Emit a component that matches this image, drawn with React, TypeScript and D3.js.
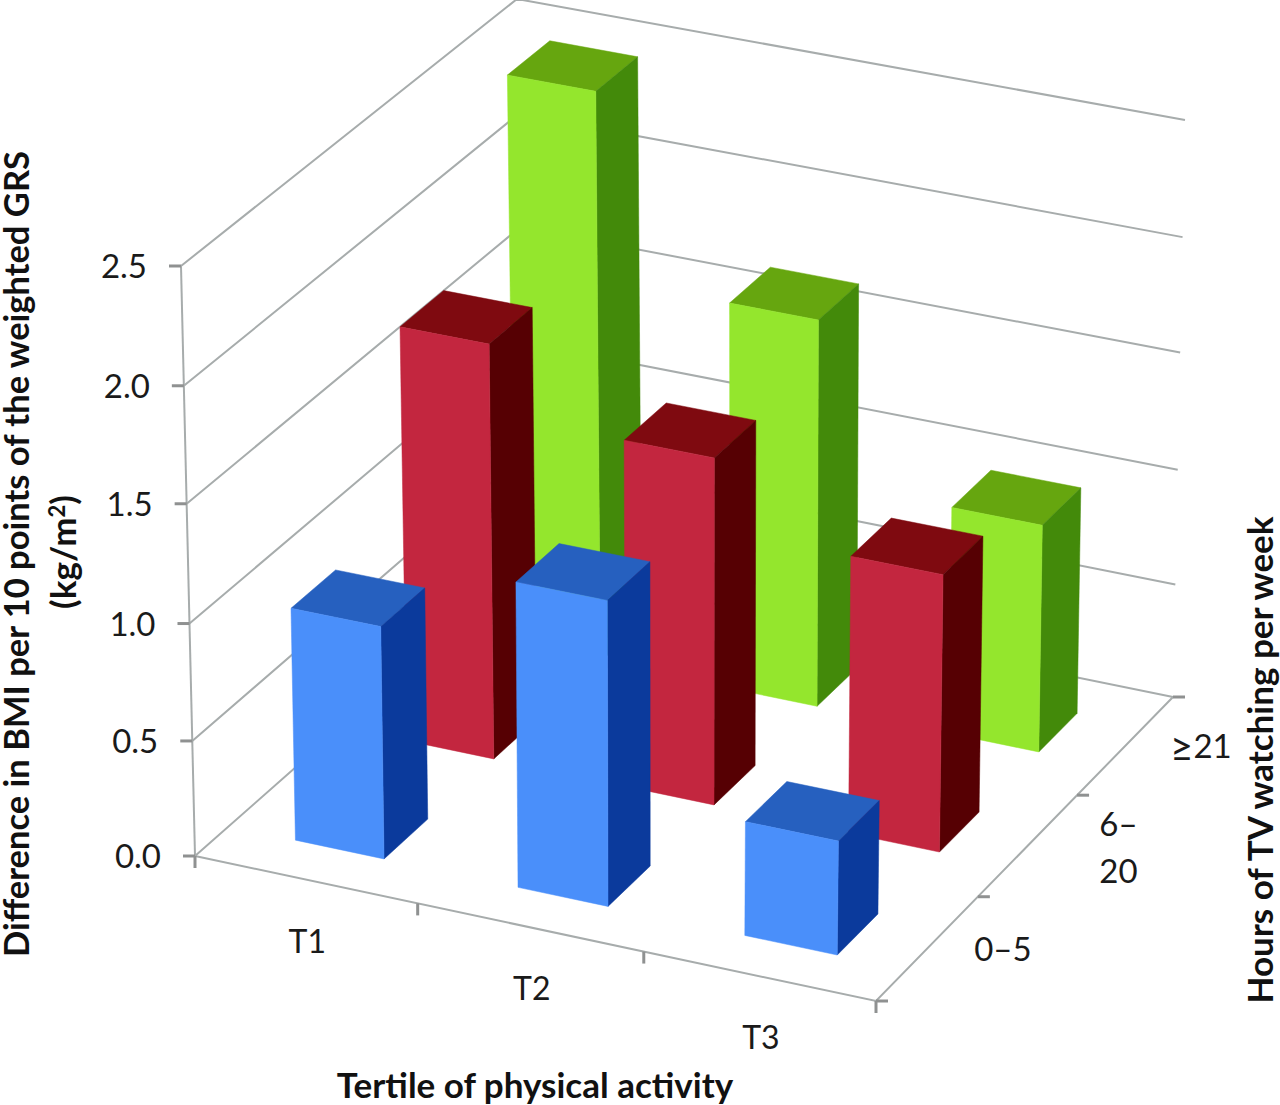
import React, { useEffect, useRef } from 'react';
import * as d3 from 'd3';

const tertiles = ['T1', 'T2', 'T3'];
const tvHours = ['0–5', '6–20', '≥21'];
const valueTicks = [0, 0.5, 1, 1.5, 2, 2.5];

// back row first so the painter order works out
const tvHighValues = [2.485, 1.68, 0.99];
const tvMidValues = [1.79, 1.49, 1.19];
const tvLowValues = [1.0, 1.3, 0.49];

const seriesRows = [
  { tv: 2, values: tvHighValues, front: '#94e62d', side: '#438a0a', top: '#66a60f' },
  { tv: 1, values: tvMidValues, front: '#c3263f', side: '#560003', top: '#7f0a10' },
  { tv: 0, values: tvLowValues, front: '#4a8ffa', side: '#0b3a9c', top: '#2660bf' },
];

type Pt = [number, number];

// corners of the chart box as seen on screen
const floorFL: Pt = [195, 856];
const floorFR: Pt = [876, 1001];
const floorBL: Pt = [525, 565];
const floorBR: Pt = [1173, 697];
const topFL: Pt = [181, 266];
const topFR: Pt = [884, 401];
const topBL: Pt = [517, -1];
const topBR: Pt = [1185, 120];

const App: React.FC = () => {
  const svgRef = useRef<SVGSVGElement>(null);

  useEffect(() => {
    if (!svgRef.current) return;
    const svg = d3.select(svgRef.current);
    svg.selectAll('*').remove();

    const uScale = d3.scaleLinear().domain([0, 1, 2, 3]).range([0, 0.327, 0.659, 1]);
    const vScale = d3.scaleLinear().domain([0, 1, 2, 3]).range([0, 0.343, 0.677, 1]);
    const hScale = d3.scaleLinear().domain(valueTicks).range([0, 0.195, 0.394, 0.597, 0.797, 1]);

    const mix = (a: Pt, b: Pt, t: number): Pt => d3.interpolateArray(a, b)(t) as unknown as Pt;

    const project = (u: number, v: number, value: number): Pt => {
      const s = uScale(u);
      const t = vScale(v);
      const floor = mix(mix(floorFL, floorFR, s), mix(floorBL, floorBR, s), t);
      const ceil = mix(mix(topFL, topFR, s), mix(topBL, topBR, s), t);
      return mix(floor, ceil, hScale(value));
    };

    const line = d3.line<Pt>();
    const poly = (pts: Pt[]) => line(pts) + 'Z';

    // Walls
    const grid = svg.append('g').attr('fill', 'none').attr('stroke', '#a7acac').attr('stroke-width', 2);
    valueTicks.forEach((t) => {
      grid.append('path').attr('d', line([project(0, 0, t), project(0, 3, t), project(3, 3, t)]));
    });
    grid.append('path').attr('d', line([project(0, 0, 0), project(0, 0, 2.5)]));
    grid.append('path').attr('d', line([project(0, 0, 0), project(3, 0, 0), project(3, 3, 0)]));

    // Tick marks
    const ticks = svg.append('g').attr('stroke', '#8f9191').attr('stroke-width', 3);
    valueTicks.forEach((t) => {
      const [x, y] = project(0, 0, t);
      ticks.append('line').attr('x1', x - 12).attr('x2', x).attr('y1', y).attr('y2', y);
    });
    d3.range(0, 4).forEach((i) => {
      const [x, y] = project(i, 0, 0);
      ticks.append('line').attr('x1', x).attr('x2', x).attr('y1', y).attr('y2', y + 12);
    });
    d3.range(0, 4).forEach((i) => {
      const [x, y] = project(3, i, 0);
      ticks.append('line').attr('x1', x).attr('x2', x + 12).attr('y1', y).attr('y2', y);
    });

    // Bars
    const barLo = 0.3;
    const barHi = 0.7;
    const bars = svg.append('g');
    seriesRows.forEach((row) => {
      row.values.forEach((value, i) => {
        const u0 = i + barLo;
        const u1 = i + barHi;
        const v0 = row.tv + barLo;
        const v1 = row.tv + barHi - 0.005;
        const g = bars.append('g');
        g.append('path').attr('fill', row.top).attr('stroke', row.top).attr('stroke-width', 0.5).attr('d', poly([
          project(u0, v0, value), project(u1, v0, value), project(u1, v1, value), project(u0, v1, value),
        ]));
        g.append('path').attr('fill', row.side).attr('stroke', row.side).attr('stroke-width', 0.5).attr('d', poly([
          project(u1, v0, 0), project(u1, v1, 0), project(u1, v1, value), project(u1, v0, value),
        ]));
        g.append('path').attr('fill', row.front).attr('stroke', row.front).attr('stroke-width', 0.5).attr('d', poly([
          project(u0, v0, 0), project(u1, v0, 0), project(u1, v0, value), project(u0, v0, value),
        ]));
      });
    });

    // Labels
    const font = 'Lato, "Open Sans", sans-serif';
    const labels = svg.append('g').attr('font-family', font).attr('fill', '#1a1a1a');

    valueTicks.forEach((t) => {
      const [x, y] = project(0, 0, t);
      labels.append('text')
        .attr('x', x - 34)
        .attr('y', y + 12)
        .attr('text-anchor', 'end')
        .attr('font-size', 33)
        .text(d3.format('.1f')(t));
    });

    tertiles.forEach((name, i) => {
      const [x, y] = project(i + 0.5, 0, 0);
      labels.append('text')
        .attr('x', x + 1)
        .attr('y', y + 73)
        .attr('text-anchor', 'middle')
        .attr('font-size', 32)
        .text(name);
    });

    tvHours.forEach((name, i) => {
      const [x, y] = project(3, i + 0.5, 0);
      if (name.includes('–') && name.length > 3) {
        // the middle label wraps after the dash
        [name.slice(0, 2), name.slice(2)].forEach((p, k) => {
          labels.append('text')
            .attr('x', x + 91)
            .attr('y', y - 10 + k * 47)
            .attr('text-anchor', 'middle')
            .attr('font-size', 33)
            .text(p);
        });
        return;
      }
      const t = labels.append('text')
        .attr('x', x + 76)
        .attr('y', y + 12)
        .attr('text-anchor', 'middle')
        .attr('font-size', 33);
      if (name.startsWith('≥')) {
        t.append('tspan').attr('font-size', 40).attr('dy', 4).text(name.slice(0, 1));
        t.append('tspan').attr('dy', -4).text(name.slice(1));
      } else {
        t.text(name);
      }
    });

    const titles = svg.append('g').attr('font-family', font).attr('font-weight', 700).attr('fill', '#111');
    titles.append('text')
      .attr('transform', 'translate(29,554) rotate(-90)')
      .attr('text-anchor', 'middle')
      .attr('font-size', 34.5)
      .text('Difference in BMI per 10 points of the weighted GRS');
    const kg = titles.append('text')
      .attr('transform', 'translate(76,552) rotate(-90)')
      .attr('text-anchor', 'middle')
      .attr('font-size', 35);
    kg.append('tspan').text('(kg/m');
    kg.append('tspan').attr('font-size', 22).attr('dy', -11).text('2');
    kg.append('tspan').attr('dy', 11).text(')');
    titles.append('text')
      .attr('transform', 'translate(1273,760) rotate(-90)')
      .attr('text-anchor', 'middle')
      .attr('font-size', 35)
      .text('Hours of TV watching per week');
    titles.append('text')
      .attr('x', 535)
      .attr('y', 1098)
      .attr('text-anchor', 'middle')
      .attr('font-size', 35)
      .text('Tertile of physical activity');
  }, []);

  return (
    <svg
      ref={svgRef}
      width={1280}
      height={1105}
      style={{ position: 'absolute', top: 0, left: 0, background: '#fff' }}
    />
  );
};

export default App;
